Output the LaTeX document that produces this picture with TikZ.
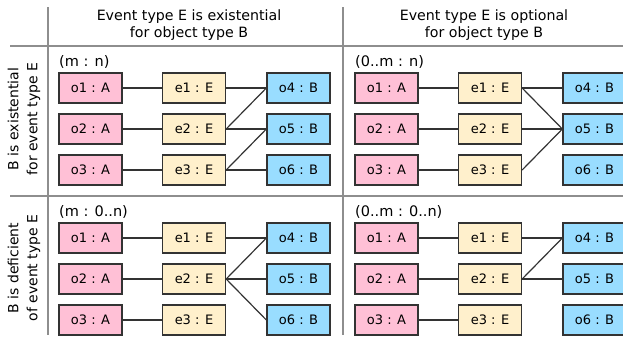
\documentclass[tikz,border=0pt]{standalone}
\usepackage{fontspec}
\setmainfont{DejaVu Sans}
\usetikzlibrary{positioning}

\definecolor{objA}{HTML}{FFC0D6}
\definecolor{evtE}{HTML}{FFF0CC}
\definecolor{objB}{HTML}{99DDFF}
\definecolor{boxline}{HTML}{333333}
\definecolor{rule}{HTML}{8E8E8E}

\tikzset{
	inst/.style={draw=boxline,line width=1.3pt,minimum width=63pt,minimum height=30pt,inner sep=0pt,font=\fontsize{13}{15}\selectfont},
	instA/.style={inst,fill=objA},
	instE/.style={inst,fill=evtE},
	instB/.style={inst,fill=objB},
	link/.style={draw=boxline,line width=1.2pt},
	sep/.style={draw=rule,line width=2pt},
	card/.style={anchor=west,inner sep=0pt,font=\fontsize{14.5}{16}\selectfont},
	head/.style={align=center,inner sep=0pt,font=\fontsize{14.2}{16.5}\selectfont},
	side/.style={align=center,inner sep=0pt,rotate=90,font=\fontsize{14}{19}\selectfont}
}

\begin{document}
\begin{tikzpicture}[x=1pt,y=-1pt]
	\useasboundingbox (0,0) rectangle (623,340);
	% table rules
	\draw[sep] (48,7) -- (48,335);
	\draw[sep] (343,7) -- (343,335);
	\draw[sep] (10,46) -- (623,46);
	\draw[sep] (10,196) -- (623,196);
	% headers
	\node[head] (hexist) at (189,25) {Event type E is existential\\for object type B};
	\node[head] (hopt) at (484,25) {Event type E is optional\\for object type B};
	\node[side] (sexist) at (24,119) {B is existential\\for event type E};
	\node[side] (sdef) at (24,268) {B is deficient\\of event type E};
	% the four panels
	\foreach \p/\dx/\dy/\card in {tl/0/0/{(m : n)}, tr/296/0/{(0..m : n)}, bl/0/150/{(m : 0..n)}, br/296/150/{(0..m : 0..n)}} {
		\node[card] (\p-card) at (59+\dx,62+\dy) {\card};
		\foreach \i in {1,2,3} {
			\pgfmathtruncatemacro\j{\i+3}
			\node[instA] (\p-o\i) at (90.5+\dx,47+41*\i+\dy) {o\i{} : A};
			\node[instE] (\p-e\i) at (194+\dx,47+41*\i+\dy) {e\i{} : E};
			\node[instB] (\p-o\j) at (298.5+\dx,47+41*\i+\dy) {o\j{} : B};
			\draw[link] (\p-o\i) -- (\p-e\i);
		}
	}
	% event to object B links
	\foreach \a/\b in {1/4,2/4,2/5,3/5,3/6}
		\draw[link] (tl-e\a.east) -- (tl-o\b.west);
	\foreach \a/\b in {1/4,1/5,2/5,3/5}
		\draw[link] (tr-e\a.east) -- (tr-o\b.west);
	\foreach \a/\b in {1/4,2/4,2/5,2/6}
		\draw[link] (bl-e\a.east) -- (bl-o\b.west);
	\foreach \a/\b in {1/4,2/4,2/5}
		\draw[link] (br-e\a.east) -- (br-o\b.west);
\end{tikzpicture}
\end{document}
